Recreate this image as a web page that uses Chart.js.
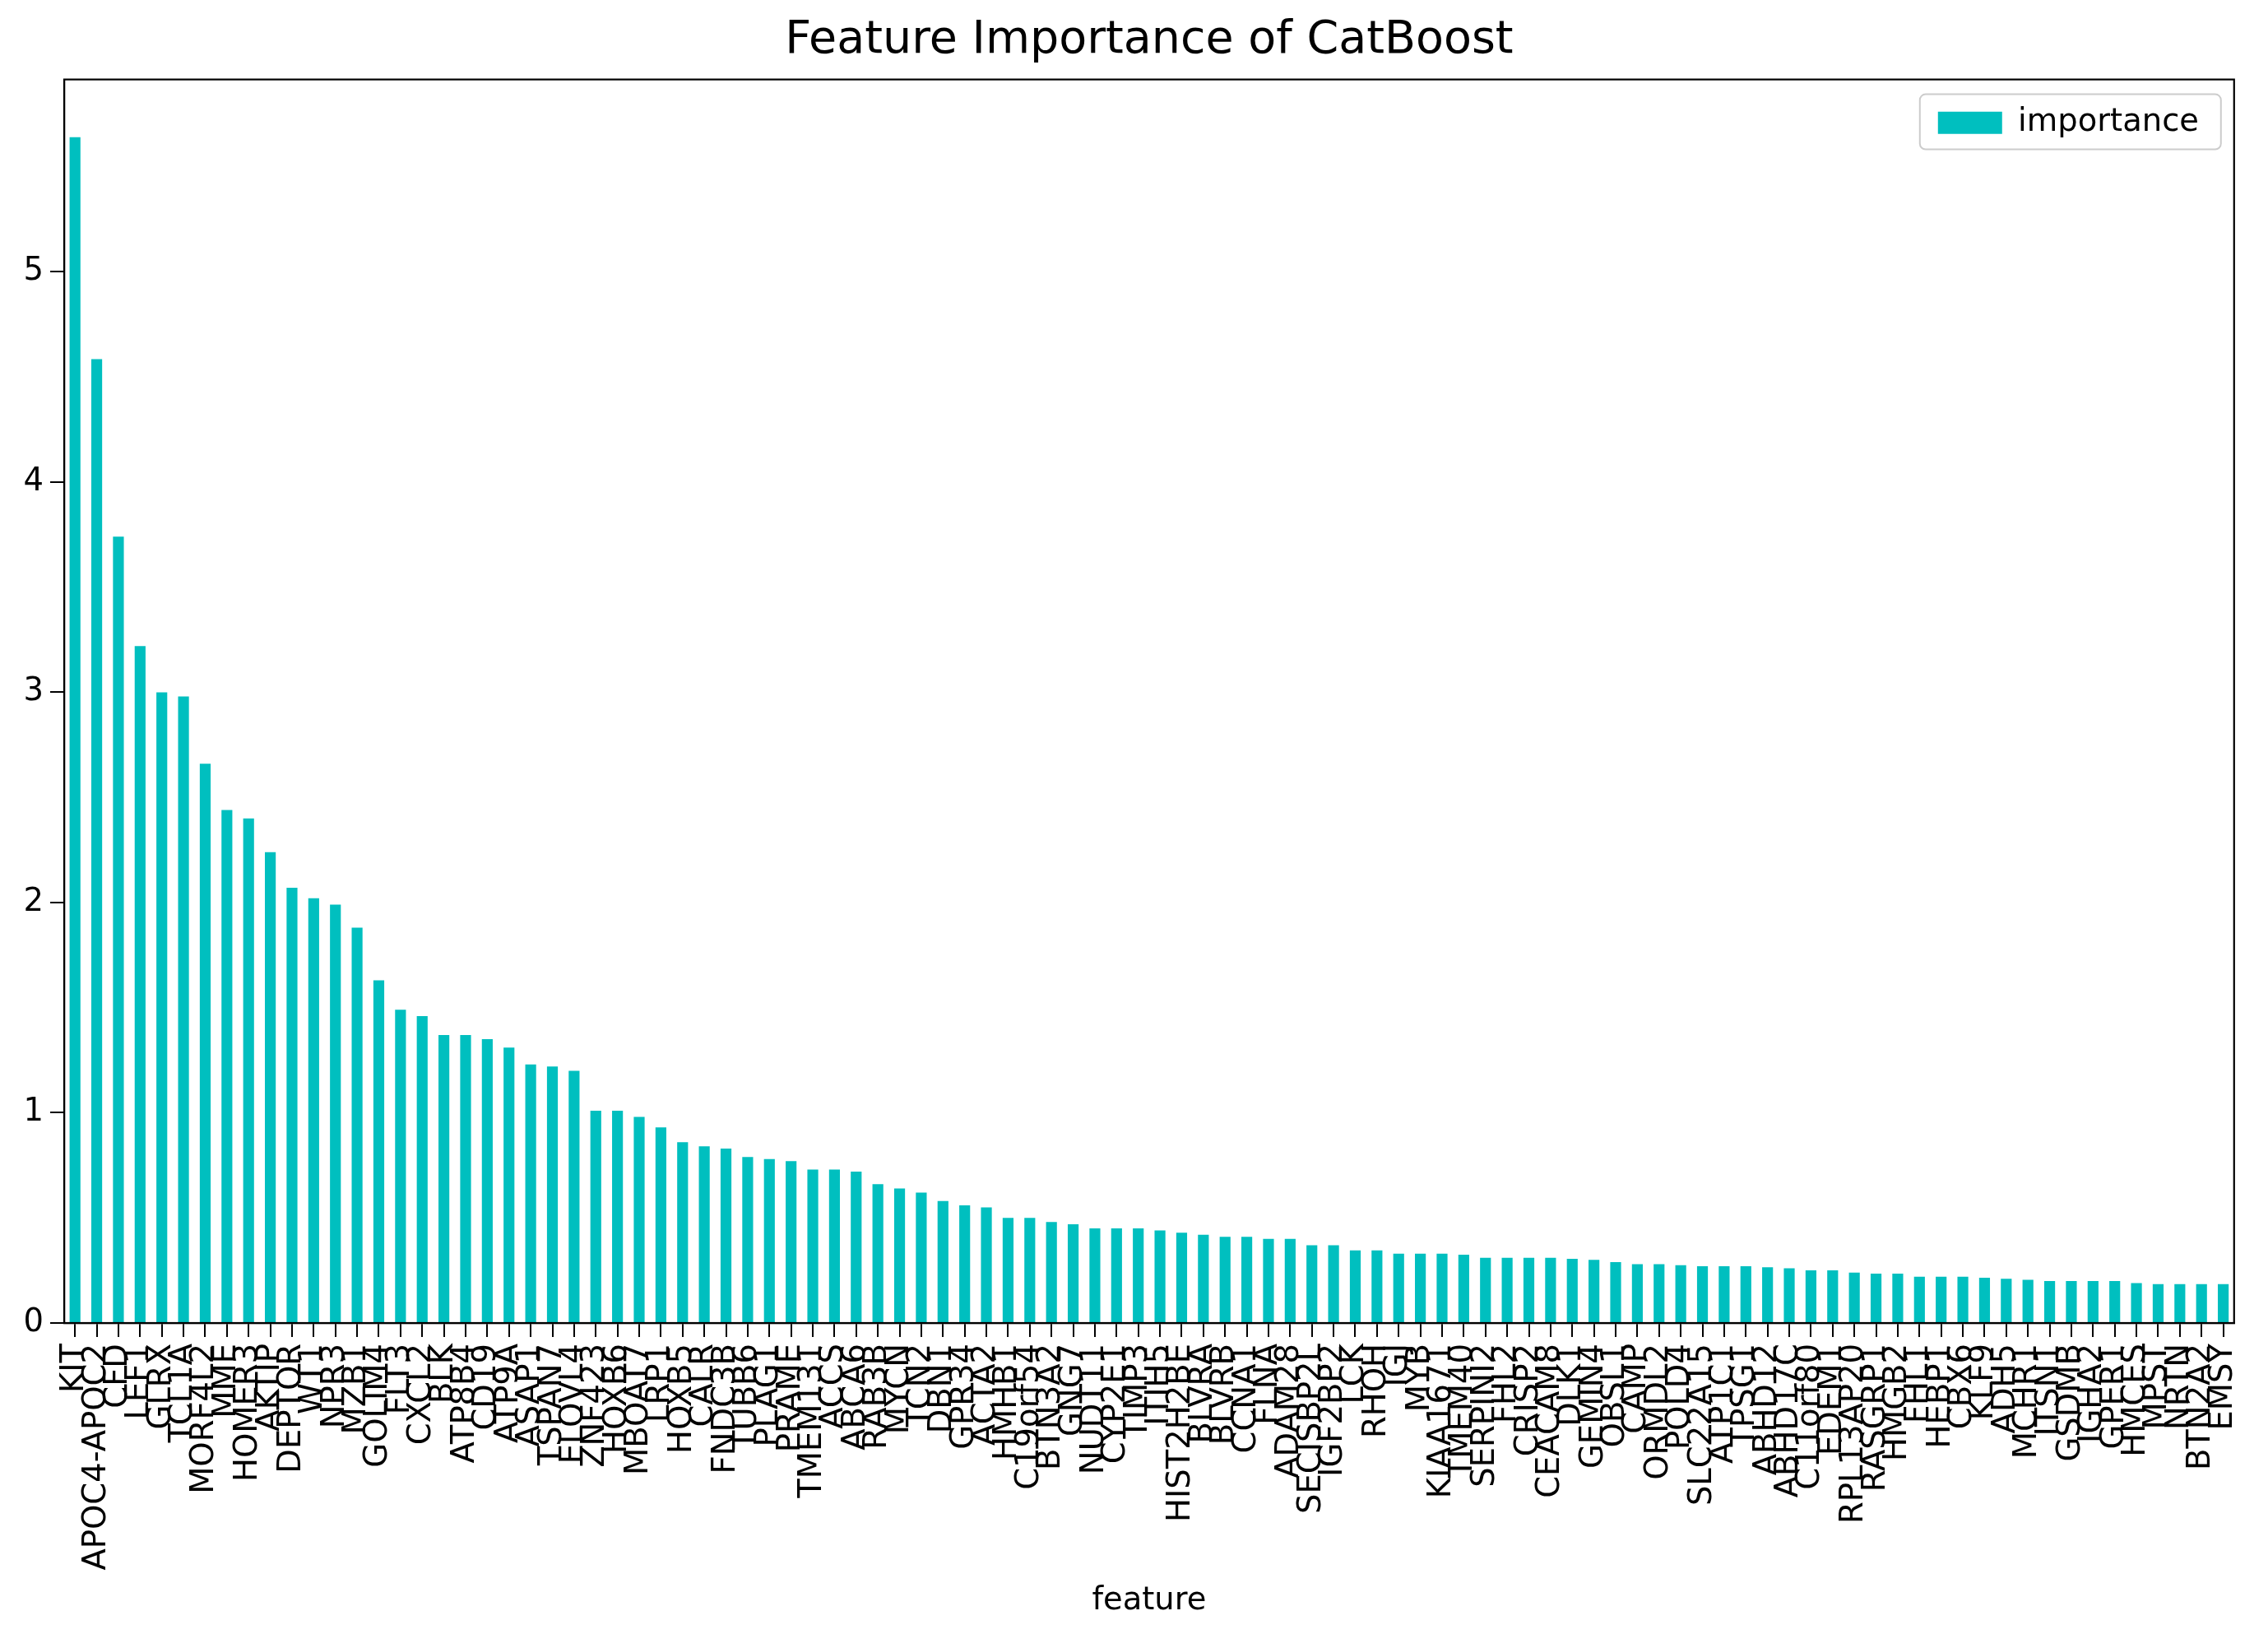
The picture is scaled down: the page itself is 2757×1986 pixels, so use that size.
<!DOCTYPE html>
<html>
<head>
<meta charset="utf-8">
<script src="https://cdn.jsdelivr.net/npm/chart.js@4.4.0/dist/chart.umd.min.js"></script>
<style>
  html, body { margin: 0; padding: 0; background: #fff; }
  #wrap { width: 2757px; height: 1986px; }
</style>
</head>
<body>
<div id="wrap"><canvas id="c" width="2757" height="1986"></canvas></div>
<script>
const features = [
  'KIT','APOC4-APOC2','CFD','LEF1','GLRX','TCL1A','MORF4L2','MME','HOMER3','AKTIP',
  'DEPTOR','WT1','NPR3','MZB1','GOLIM4','FLT3','CXCL2','BLK','ATP8B4','CD19',
  'ATP9A','ASAP1','TSPAN7','ELOVL4','ZNF423','HOXB6','MBOAT7','LRP1','HOXB5','CALR',
  'FNDC3B','TUBB6','PLAG1','PRAME','TMEM131','ACCS','ABCA6','RAB3B','MYCN','TCN2',
  'DBN1','GPR34','ACTA2','HMHB1','C19orf54','BTN3A2','GNG7','NUDT11','CYP2E1','TIMP3',
  'ITIH5','HIST2H2BE','BLVRA','BLVRB','CCNA1','FLNA','ADAM28','SECISBP2L','IGF2BP2','LCK',
  'RHOH','IGJ','MYB','KIAA1671','TMEM40','SERPINI2','FHL2','CRISP2','CEACAM8','DLK1',
  'GEMIN4','OBSL1','CAMP','ORMDL2','POLD4','SLC22A15','ATP1C1','TPSG1','ABHD12','ABHD17C',
  'C11orf80','EDEM1','RPL13AP20','RASGRP1','HMGB2','FHL1','HEBP1','CBX6','KLF9','ADH5',
  'MCHR1','ITSN1','GSDMB','IGHA2','GPER1','HMCES','MPST','NRTN','BTN2A2','EMSY'
];
const importance = [
  5.64,4.585,3.74,3.22,3.00,2.98,2.66,2.44,2.40,2.24,
  2.07,2.02,1.99,1.88,1.63,1.49,1.46,1.37,1.37,1.35,
  1.31,1.23,1.22,1.20,1.01,1.01,0.98,0.93,0.86,0.84,
  0.83,0.79,0.78,0.77,0.73,0.73,0.72,0.66,0.64,0.62,
  0.58,0.56,0.55,0.50,0.50,0.48,0.47,0.45,0.45,0.45,
  0.44,0.43,0.42,0.41,0.41,0.40,0.40,0.37,0.37,0.345,
  0.345,0.33,0.33,0.33,0.325,0.31,0.31,0.31,0.31,0.305,
  0.30,0.29,0.28,0.28,0.275,0.27,0.27,0.27,0.265,0.26,
  0.25,0.25,0.24,0.235,0.235,0.22,0.22,0.22,0.215,0.21,
  0.205,0.20,0.20,0.20,0.20,0.19,0.185,0.185,0.185,0.185
];
const yTicks = [0, 1, 2, 3, 4, 5];
const seriesName = 'importance';
const chartTitle = 'Feature Importance of CatBoost';
const xTitle = 'feature';

Chart.defaults.font.family = "'DejaVu Sans', sans-serif";
Chart.defaults.color = '#000';

const FS = 38.5;
const LEG_PAD = 10;

// Places the legend inside the axes, top-right, as in the reference.
const legendPlacer = {
  id: 'legendPlacer',
  afterLayout(chart) {
    const lg = chart.legend;
    const a = chart.chartArea;
    if (!lg) return;
    const w = 360, h = 70;
    lg.left = a.right - 360 - LEG_PAD;
    lg.top = a.top + 33.5 - LEG_PAD;
    lg.width = w;
    lg.height = h;
    lg.right = lg.left + w;
    lg.bottom = lg.top + h;
  }
};

const framePlugin = {
  id: 'frame',
  beforeDraw(chart) {
    const ctx = chart.ctx;
    const a = chart.chartArea;
    const l = a.right - 382, t = a.top + 18, w = 366, hh = 67, r = 7;
    ctx.save();
    ctx.fillStyle = '#ffffff';
    ctx.strokeStyle = '#cccccc';
    ctx.lineWidth = 2;
    ctx.beginPath();
    ctx.moveTo(l + r, t);
    ctx.arcTo(l + w, t, l + w, t + hh, r);
    ctx.arcTo(l + w, t + hh, l, t + hh, r);
    ctx.arcTo(l, t + hh, l, t, r);
    ctx.arcTo(l, t, l + w, t, r);
    ctx.closePath();
    ctx.fill();
    ctx.stroke();
    ctx.restore();
  },
  afterDraw(chart) {
    const ctx = chart.ctx;
    const a = chart.chartArea;
    ctx.save();
    ctx.strokeStyle = '#000';
    ctx.lineWidth = 2.2;
    ctx.strokeRect(a.left, a.top, a.right - a.left, a.bottom - a.top);
    ctx.restore();
  }
};

new Chart(document.getElementById('c'), {
  type: 'bar',
  data: {
    labels: features,
    datasets: [{
      label: seriesName,
      data: importance,
      backgroundColor: '#00bfbf',
      borderWidth: 0,
      barPercentage: 0.5,
      categoryPercentage: 1.0
    }]
  },
  options: {
    responsive: false,
    animation: false,
    devicePixelRatio: 1,
    layout: { padding: { left: 0, right: 22, top: 0, bottom: 0 } },
    plugins: {
      title: {
        display: true,
        text: chartTitle,
        fullSize: false,
        color: '#000',
        font: { size: 55.5, weight: 'normal' },
        padding: { top: 16, bottom: 14 }
      },
      legend: {
        display: true,
        position: 'chartArea',
        align: 'start',
        labels: {
          boxWidth: 78,
          boxHeight: 27,
          padding: LEG_PAD,
          color: '#000',
          font: { size: FS }
        }
      },
      tooltip: { enabled: false }
    },
    scales: {
      x: {
        type: 'category',
        offset: true,
        grid: {
          display: true,
          offset: false,
          drawOnChartArea: false,
          drawTicks: true,
          tickLength: 17,
          color: '#000',
          tickColor: '#000',
          lineWidth: 2,
          tickWidth: 2
        },
        border: { display: true, color: '#000', width: 2.2 },
        ticks: {
          autoSkip: false,
          maxRotation: 90,
          minRotation: 90,
          padding: 8,
          color: '#000',
          font: { size: FS }
        },
        title: {
          display: true,
          text: xTitle,
          color: '#000',
          font: { size: FS },
          padding: { top: 0, bottom: 17 }
        },
        afterFit(scale) { scale.height = 378; }
      },
      y: {
        type: 'linear',
        min: 0,
        max: 5.915,
        afterBuildTicks(scale) { scale.ticks = yTicks.map(v => ({ value: v })); },
        grid: {
          display: true,
          drawOnChartArea: false,
          drawTicks: true,
          tickLength: 17,
          color: '#000',
          tickColor: '#000',
          lineWidth: 2,
          tickWidth: 2
        },
        border: { display: true, color: '#000', width: 2.2 },
        ticks: {
          includeBounds: false,
          padding: 8,
          color: '#000',
          font: { size: FS }
        },
        afterFit(scale) { scale.width = 78; }
      }
    }
  },
  plugins: [legendPlacer, framePlugin]
});
</script>
</body>
</html>
